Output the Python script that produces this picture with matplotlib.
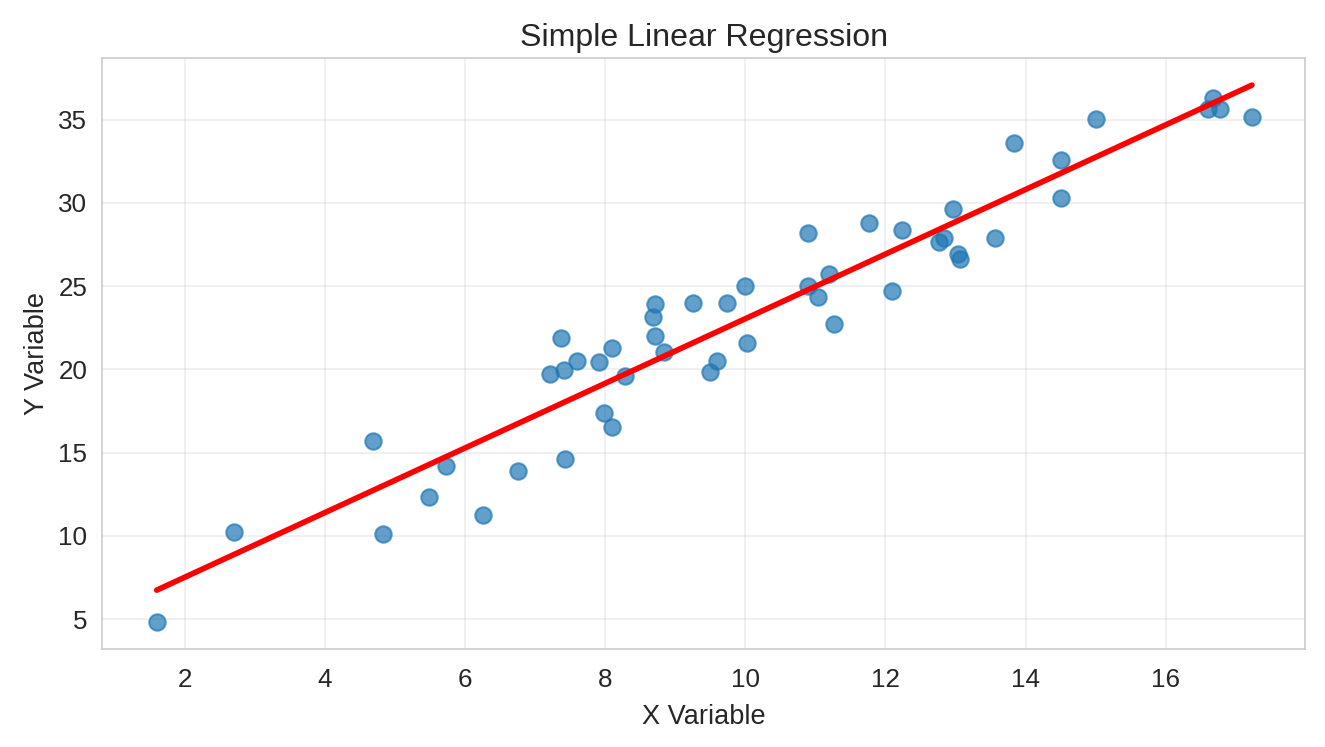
import numpy as np
import matplotlib
matplotlib.use("Agg")
import matplotlib.pyplot as plt
import seaborn as sns

# Points
x_vals = [1.60, 2.71, 4.69, 4.83, 5.49, 5.73, 6.26, 6.76, 7.21, 7.37,
          7.41, 7.43, 7.60, 7.91, 7.99, 8.10, 8.10, 8.29, 8.69, 8.71,
          8.71, 8.84, 9.26, 9.50, 9.60, 9.74, 9.99, 10.03, 10.89, 10.89,
          11.04, 11.19, 11.27, 11.76, 12.10, 12.24, 12.76, 12.83, 12.97, 13.03,
          13.06, 13.57, 13.84, 14.51, 14.51, 15.00, 16.61, 16.67, 16.77, 17.23]
y_vals = [4.81, 10.25, 15.69, 10.13, 12.35, 14.20, 11.27, 13.90, 19.70, 21.90,
          19.94, 14.62, 20.48, 20.42, 17.37, 21.25, 16.53, 19.58, 23.17, 23.94,
          22.03, 21.01, 24.00, 19.82, 20.48, 24.00, 25.02, 21.55, 28.19, 25.02,
          24.36, 25.74, 22.75, 28.78, 24.72, 28.37, 27.65, 27.89, 29.62, 26.93,
          26.63, 27.89, 33.57, 32.55, 30.28, 35.06, 35.66, 36.31, 35.66, 35.18]

x = np.array(x_vals)
y = np.array(y_vals)

sns.set_style("whitegrid")
plt.rcParams["font.family"] = ["Liberation Sans", "DejaVu Sans"]

fig, ax = plt.subplots(figsize=(1325 / 150, 747 / 150), dpi=150)
fig.subplots_adjust(left=0.077, right=0.985, top=0.922, bottom=0.131)

# Least-squares fit
slope, intercept = np.polyfit(x, y, 1)
y_pred = slope * x + intercept

ax.scatter(x, y, s=62, alpha=0.7, color="#1f77b4")
ax.plot(x, y_pred, color="red", linewidth=2.7)

ax.set_xlim(0.82, 17.99)
ax.set_title("Simple Linear Regression", fontsize=15.4)
ax.set_xlabel("X Variable", fontsize=13, labelpad=6)
ax.set_ylabel("Y Variable", fontsize=13)
ax.tick_params(labelsize=12.5)
ax.tick_params(axis="x", pad=5.5)
ax.grid(True, alpha=0.35)

fig.savefig("out.png", dpi=150)
